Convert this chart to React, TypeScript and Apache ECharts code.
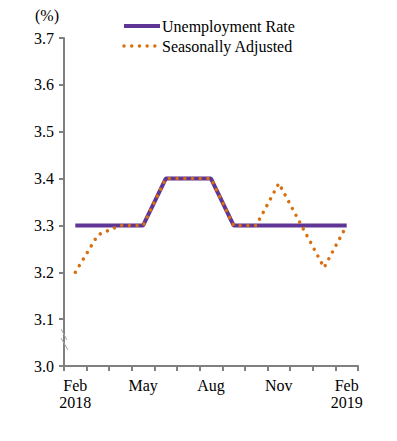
import React, { useEffect, useRef } from "react";
import * as echarts from "echarts";

const months = ["Feb", "Mar", "Apr", "May", "Jun", "Jul", "Aug", "Sep", "Oct", "Nov", "Dec", "Jan", "Feb"];
const monthLabels = ["Feb\n2018", "", "", "May", "", "", "Aug", "", "", "Nov", "", "", "Feb\n2019"];
const unemploymentRate = [3.3, 3.3, 3.3, 3.3, 3.4, 3.4, 3.4, 3.3, 3.3, 3.3, 3.3, 3.3, 3.3];
const seasonallyAdjusted = [3.2, 3.28, 3.3, 3.3, 3.4, 3.4, 3.4, 3.3, 3.3, 3.39, 3.3, 3.21, 3.3];

const FONT = "Liberation Serif";

export default function App() {
  const ref = useRef<HTMLDivElement>(null);
  useEffect(() => {
    if (!ref.current) return;
    const chart = echarts.init(ref.current, null, { renderer: "svg" });
    chart.setOption({
      animation: false,
      textStyle: { fontFamily: FONT },
      grid: { left: 64, right: 39, top: 38, bottom: 75, containLabel: false },
      legend: {
        orient: "vertical",
        left: 117,
        top: 13,
        itemWidth: 36,
        itemHeight: 14,
        itemGap: 4,
        padding: 5,
        itemStyle: { opacity: 0 },
        textStyle: { fontFamily: FONT, fontSize: 16, color: "#000", padding: [0, 0, 0, -3] },
        data: [
          { name: "Unemployment Rate", lineStyle: { width: 4 } },
          { name: "Seasonally Adjusted", lineStyle: { width: 3.5 } },
        ],
      },
      xAxis: {
        type: "category",
        data: months,
        boundaryGap: true,
        axisLine: { lineStyle: { color: "#808080", width: 2 } },
        axisTick: { show: true, interval: 0, length: 5, lineStyle: { color: "#808080", width: 2 } },
        axisLabel: {
          interval: 0,
          formatter: (_v: string, i: number) => monthLabels[i],
          fontFamily: FONT,
          fontSize: 16,
          color: "#000",
          margin: 11,
          lineHeight: 17,
        },
        splitLine: { show: false },
      },
      yAxis: {
        type: "value",
        min: 3.0,
        max: 3.7,
        interval: 0.1,
        axisLine: { show: true, lineStyle: { color: "#808080", width: 2 } },
        axisTick: { show: true, length: 5, lineStyle: { color: "#808080", width: 2 } },
        axisLabel: {
          formatter: (v: number) => v.toFixed(1),
          fontFamily: FONT,
          fontSize: 16,
          color: "#000",
          margin: 10,
        },
        splitLine: { show: false },
      },
      graphic: [
        {
          type: "text",
          left: 35,
          top: 7,
          style: { text: "(%)", fontFamily: FONT, fontSize: 16, fill: "#000" },
        },
        {
          type: "line",
          z: 10,
          shape: { x1: 61, y1: 329, x2: 67, y2: 340 },
          style: { stroke: "#a6a6a6", lineWidth: 1 },
        },
        {
          type: "line",
          z: 10,
          shape: { x1: 61, y1: 338, x2: 68, y2: 350 },
          style: { stroke: "#a6a6a6", lineWidth: 1 },
        },
      ],
      series: [
        {
          name: "Unemployment Rate",
          type: "line",
          data: unemploymentRate,
          showSymbol: false,
          symbol: "none",
          lineStyle: { color: "#5f3595", width: 4 },
          itemStyle: { color: "#5f3595" },
          z: 2,
        },
        {
          name: "Seasonally Adjusted",
          type: "line",
          data: seasonallyAdjusted,
          showSymbol: false,
          symbol: "none",
          lineStyle: { color: "#d9700f", width: 3.5, type: [0.01, 7.7], cap: "round" },
          itemStyle: { color: "#d9700f" },
          z: 3,
        },
      ],
    });
    return () => chart.dispose();
  }, []);
  return <div ref={ref} style={{ width: 397, height: 441, position: "absolute", left: 0, top: 0 }} />;
}
